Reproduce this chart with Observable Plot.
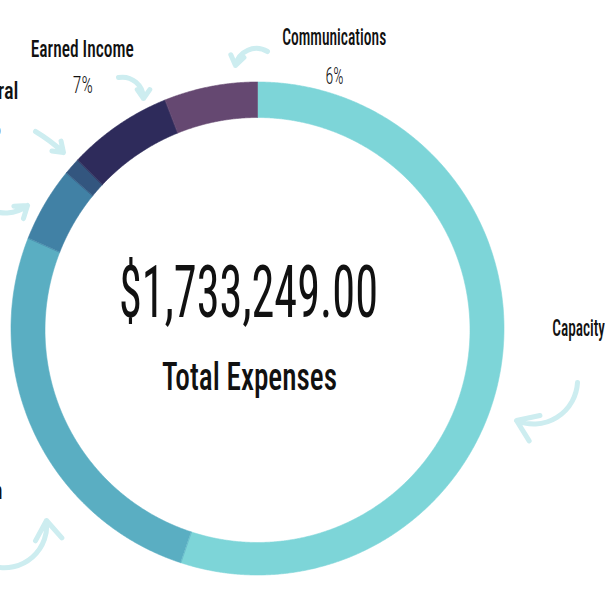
<!DOCTYPE html>
<html><head><meta charset="utf-8">
<script src="https://cdn.jsdelivr.net/npm/d3@7"></script>
<script src="https://cdn.jsdelivr.net/npm/@observablehq/plot@0.6"></script>
<style>html,body{margin:0;padding:0;overflow:hidden;background:#fff}</style>
</head><body><div id="chart"></div>
<script>
// ---- data ----
const categories = ["Capacity Building", "Administration", "Fundraising", "General", "Earned Income", "Communications"];
const shares = [55.0, 25.9, 4.9, 1.1, 6.9, 6.1];           // percent of total expenses
const percentLabels = ["55%", "26%", "5%", "1%", "7%", "6%"];
const totalLabel = "$1,733,249.00";
const totalCaption = "Total Expenses";

// ---- styles / layout (not data) ----
const sliceColors = ["#7dd5d8", "#5aaec2", "#4181a5", "#33567f", "#2e2b5b", "#654871"];
const W = 605, H = 605;
const CX = 257.5, CY = 328.5, R_OUT = 246.5, R_IN = 212.5, IN_DY = 1.5;
const FONT = "'Roboto Condensed', 'Liberation Sans Narrow', 'DejaVu Sans Condensed', Roboto, sans-serif";
// label anchors (name center x, name baseline y, name width, percent center x, percent baseline y, percent width)
const labelLayout = [
  {x: 604.7, y: 335, w: 106, px: 645, py: 373, pw: 28},
  {x: -53, y: 498, w: 110, px: -53, py: 536, pw: 28},
  {x: -62, y: 196, w: 82,  px: -62, py: 234, pw: 18},
  {x: -13, y: 98, w: 62,   px: -8.5, py: 134.7, pw: 18},
  {x: 81.7, y: 56, w: 103, px: 82.3, py: 92.7, pw: 20},
  {x: 333.7, y: 44.3, w: 104, px: 334, py: 83, pw: 18}
];
const arrowLayout = [
  {x1: 577, y1: 382, x2: 516, y2: 420, bend: 55},
  {x1: -6, y1: 566, x2: 46, y2: 520, bend: -55},
  {x1: -14, y1: 207, x2: 27, y2: 205, bend: -35},
  {x1: 35, y1: 131, x2: 63, y2: 152, bend: 6},
  {x1: 118, y1: 77, x2: 143, y2: 98, bend: 50},
  {x1: 267, y1: 51, x2: 235, y2: 65, bend: -55}
];

// ---- build ring geometry from the shares ----
const arcs = d3.pie().sort(null).value(d => d)(shares);
const ring = [];
arcs.forEach((a, i) => {
  const n = Math.max(2, Math.ceil((a.endAngle - a.startAngle) / (Math.PI / 720)));
  for (let k = 0; k <= n; k++) {
    const t = a.startAngle + (a.endAngle - a.startAngle) * k / n;
    ring.push({
      cat: categories[i],
      x1: CX + R_OUT * Math.sin(t), y1: CY - R_OUT * Math.cos(t),
      x2: CX + R_IN * Math.sin(t),  y2: CY + IN_DY - R_IN * Math.cos(t)
    });
  }
});

const labels = categories.map((c, i) => ({cat: c, pct: percentLabels[i], ...labelLayout[i]}));
const arrows = categories.map((c, i) => ({cat: c, ...arrowLayout[i]}));

const plot = Plot.plot({
  width: W, height: H, margin: 0,
  x: {domain: [0, W], range: [0, W], axis: null},
  y: {domain: [0, H], range: [0, H], axis: null},
  color: {domain: categories, range: sliceColors},
  style: {overflow: "hidden", background: "#fff"},
  marks: [
    Plot.area(ring, {x1: "x1", y1: "y1", x2: "x2", y2: "y2", z: "cat", fill: "cat", stroke: "cat", strokeWidth: 0.6, curve: "linear"}),
    ...arrows.map(a => Plot.arrow([a], {x1: "x1", y1: "y1", x2: "x2", y2: "y2", bend: a.bend,
      stroke: "#cdedf0", strokeWidth: 5, headLength: 13, headAngle: 70, strokeLinecap: "round"})),
    Plot.text(labels, {x: "x", y: "y", text: "cat", fontSize: 24, fontWeight: 500, fontFamily: FONT,
      fill: "#111", textAnchor: "middle", lineAnchor: "bottom"}),
    Plot.text(labels, {x: "px", y: "py", text: "pct", fontSize: 23, fontWeight: 300, fontFamily: FONT,
      fill: "#111", textAnchor: "middle", lineAnchor: "bottom"}),
    Plot.text([totalLabel], {x: () => 248, y: () => 316, text: d => d, fontSize: 73, fontWeight: 400, fontFamily: FONT,
      fill: "#111", textAnchor: "middle", lineAnchor: "bottom"}),
    Plot.text([totalCaption], {x: () => 249, y: () => 389, text: d => d, fontSize: 39, fontWeight: 500, fontFamily: FONT,
      fill: "#111", textAnchor: "middle", lineAnchor: "bottom"})
  ]
});

// condense text to the widths measured on the reference
const textGroups = d3.select(plot).selectAll('g[aria-label="text"]').nodes();
const widthSets = [labels.map(d => d.w), labels.map(d => d.pw), [259], [175]];
textGroups.forEach((g, k) => {
  d3.select(g).selectAll("text").each(function(_, i) {
    d3.select(this).attr("textLength", widthSets[k][i]).attr("lengthAdjust", "spacingAndGlyphs");
  });
});

document.getElementById("chart").appendChild(plot);
</script>
</body></html>
